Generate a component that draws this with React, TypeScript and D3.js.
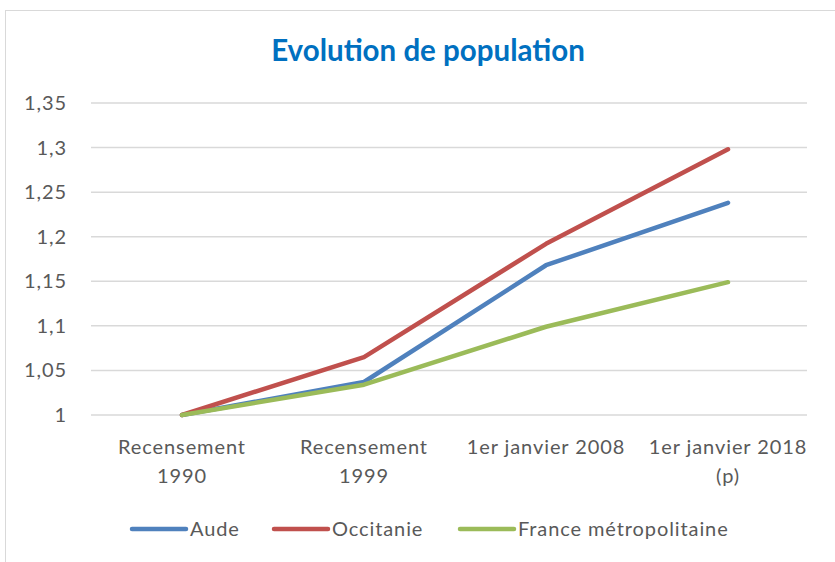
import React from "react";
import * as d3 from "d3";

const categories = [["Recensement", "1990"], ["Recensement", "1999"], ["1er janvier 2008"], ["1er janvier 2018", "(p)"]];
const categoryKeys = ["R1990", "R1999", "J2008", "J2018"];
const aude = [1, 1.037, 1.168, 1.238];
const occitanie = [1, 1.065, 1.192, 1.298];
const france = [1, 1.034, 1.099, 1.149];
const yTicks = [1, 1.05, 1.1, 1.15, 1.2, 1.25, 1.3, 1.35];
const seriesNames = ["Aude", "Occitanie", "France métropolitaine"];
const seriesColors = ["#4F81BD", "#C0504D", "#9BBB59"];

export default function App() {
  const W = 835, H = 562;
  const left = 91, right = 819, top = 103, bottom = 415;
  const x = d3.scaleBand<string>().domain(categoryKeys).range([left, right]);
  const y = d3.scaleLinear().domain([1, 1.35]).range([bottom, top]);
  const line = d3.line<number>().x((_, i) => x(categoryKeys[i])! + x.bandwidth() / 2).y((d) => y(d));
  const series = [aude, occitanie, france];
  const fmt = (v: number) => String(+v.toFixed(2)).replace(".", ",");
  const font = "Lato, 'Open Sans', sans-serif";
  const fs = 20;
  const ls = 0.9;
  const legendPos = [{ lx: 132, tx: 190 }, { lx: 274, tx: 332 }, { lx: 460, tx: 518 }];
  return (
    <svg width={W} height={H} style={{ position: "absolute", left: 0, top: 0 }}>
      <rect x={0} y={0} width={W} height={H} fill="#fff" />
      <rect x={5.5} y={10.5} width={W} height={H} fill="#fff" stroke="#d9d9d9" strokeWidth={1} />
      <text x={428} y={61} textAnchor="middle" fontFamily={font} fontWeight="bold" fontSize={29.5} fill="#0070C0">
        Evolution de population
      </text>
      {yTicks.map((t) => (
        <g key={t}>
          <line x1={left} x2={right - 12} y1={y(t)} y2={y(t)} stroke="#d9d9d9" strokeWidth={1.5} />
          <text x={67} y={y(t) + 7} textAnchor="end" fontFamily={font} fontSize={fs} letterSpacing={ls} fill="#595959">
            {fmt(t)}
          </text>
        </g>
      ))}
      {categories.map((lines, i) => (
        <text key={i} textAnchor="middle" fontFamily={font} fontSize={fs} letterSpacing={ls} fill="#595959">
          {lines.map((l, j) => (
            <tspan key={j} x={x(categoryKeys[i])! + x.bandwidth() / 2} y={454 + j * 29}>
              {l}
            </tspan>
          ))}
        </text>
      ))}
      {series.map((s, i) => (
        <path key={i} d={line(s)!} fill="none" stroke={seriesColors[i]} strokeWidth={4.5} strokeLinecap="round" strokeLinejoin="round" />
      ))}
      {seriesNames.map((n, i) => (
        <g key={n}>
          <line x1={legendPos[i].lx} x2={legendPos[i].lx + 54} y1={529} y2={529} stroke={seriesColors[i]} strokeWidth={4.5} strokeLinecap="round" />
          <text x={legendPos[i].tx} y={536} fontFamily={font} fontSize={fs} letterSpacing={ls} fill="#595959">
            {n}
          </text>
        </g>
      ))}
    </svg>
  );
}
